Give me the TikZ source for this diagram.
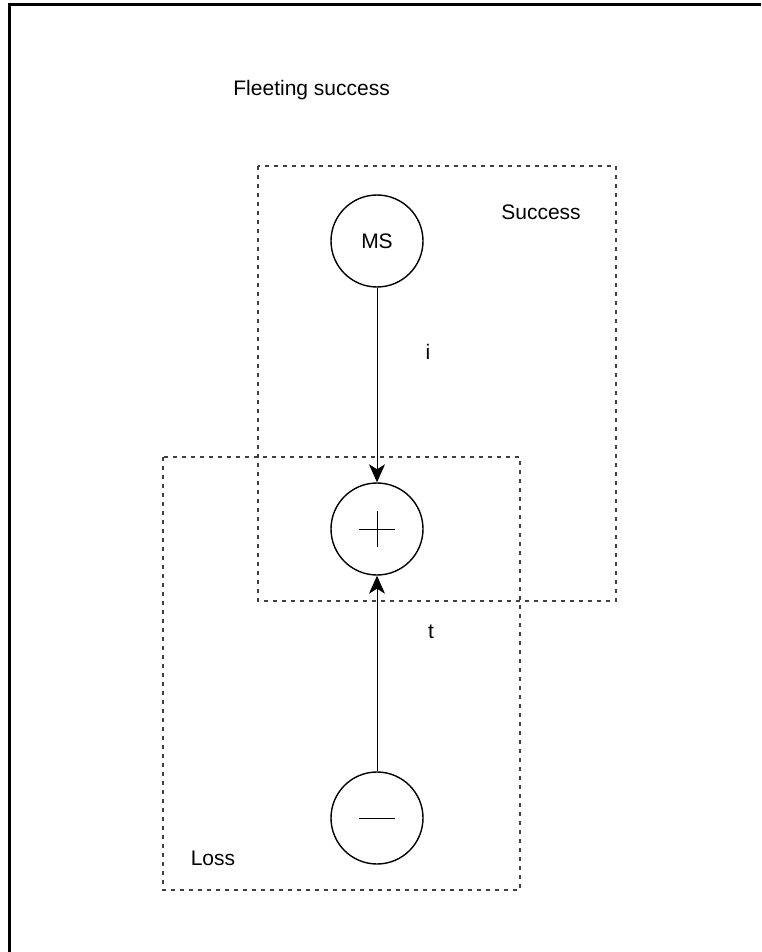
\documentclass[tikz,border=0pt]{standalone}
\usepackage{fontspec}
\setmainfont{Liberation Sans}
\usetikzlibrary{arrows.meta}
\begin{document}
\begin{tikzpicture}[x=0.5pt,y=-0.5pt,
  label text/.style={inner sep=0pt, font=\fontsize{10.5}{12}\selectfont},
  stateball/.style={circle, draw, line width=0.7pt, minimum size=46pt, inner sep=0pt,
    font=\fontsize{10.5}{12}\selectfont},
  regionbox/.style={draw=black!75, line width=0.7pt, dash pattern=on 2pt off 2.5pt},
  flow/.style={line width=0.5pt, -{Stealth[length=9pt, width=8pt, inset=2.5pt]}},
  sign/.style={line width=0.5pt}]
  \useasboundingbox (0,0) rectangle (761,952);
  % outer frame (top and left edges)
  \draw[line width=1.5pt] (9,952) -- (9,5) -- (761,5);
  % title
  \node[label text, anchor=west] (title) at (233,90) {Fleeting success};
  % region boxes
  \draw[regionbox] (258,166) rectangle (616,601);
  \draw[regionbox] (163,457) rectangle (520,890);
  \node[label text] (succ) at (541,212) {Success};
  \node[label text] (loss) at (213,858) {Loss};
  % states
  \node[stateball] (ms) at (377,241) {MS};
  \node[stateball] (plus) at (377,529) {};
  \node[stateball] (minus) at (377,818) {};
  \draw[sign] ([xshift=-9pt]plus.center) -- ([xshift=9pt]plus.center);
  \draw[sign] ([yshift=-9pt]plus.center) -- ([yshift=9pt]plus.center);
  \draw[sign] ([xshift=-9pt]minus.center) -- ([xshift=9pt]minus.center);
  % flows
  \draw[flow] (ms) -- (plus);
  \draw[flow] (minus) -- (plus);
  \node[label text] (li) at (428,352) {i};
  \node[label text] (lt) at (431,632) {t};
\end{tikzpicture}
\end{document}
